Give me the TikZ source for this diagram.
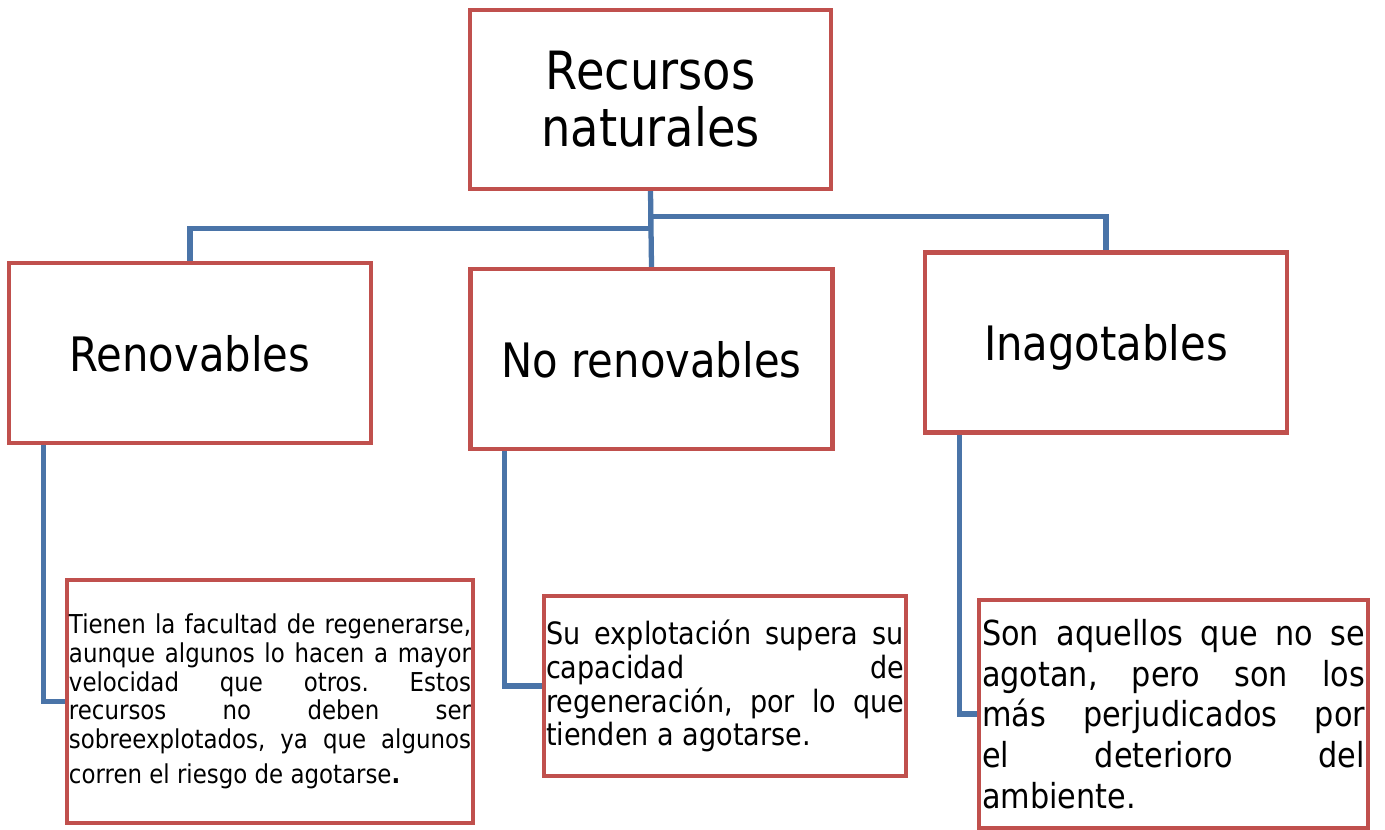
\documentclass[tikz,border=0pt]{standalone}
\usepackage{fontspec}
\setmainfont{DejaVu Sans}[FakeStretch=0.88]
\definecolor{boxred}{HTML}{C0504D}
\definecolor{linkblue}{HTML}{4A74A8}
\frenchspacing
\begin{document}
\begin{tikzpicture}
  [x=0.2mm,y=-0.2mm,
   every node/.style={rectangle,draw=boxred,line width=2.5pt,inner sep=0pt},
   cat/.style={minimum width=72.4mm,minimum height=36mm,text depth=0pt,
     font=\fontsize{27}{30}\selectfont},
   desc/.style={align=justify},
   link/.style={linkblue,line width=3pt}]
\useasboundingbox (0,0) rectangle (1385,830);
\node (top)[minimum width=72.2mm,minimum height=35.8mm,align=center,
  font=\fontsize{30}{32.5}\selectfont] at (650.5,99.5) {Recursos\\naturales};
  \node (ren)[cat] at (190,353) {Renovables};
  \node (noren)[cat] at (651.5,359) {No renovables};
  \node (inag)[cat] at (1106,342.5) {Inagotables};

\node (dren)[desc,minimum width=81.2mm,minimum height=48.6mm,text width=80.4mm,
  font=\fontsize{14.8}{16.3}\selectfont] at (270,701.5)
  {Tienen la facultad de regenerarse,\linebreak aunque algunos lo hacen a mayor\linebreak
   velocidad que otros. Estos\linebreak recursos no deben ser\linebreak
   sobreexplotados, ya que algunos\vspace{3.5pt}\linebreak corren el riesgo de agotarse\textbf{.}};
\node (dnoren)[desc,minimum width=72.4mm,minimum height=36mm,text width=71.6mm,
  font=\fontsize{17.5}{19.3}\selectfont] at (725,686)
  {Su explotación supera su\linebreak capacidad de\linebreak
   regeneración, por lo que\linebreak tienden a agotarse.};
\node (dinag)[desc,minimum width=77.8mm,minimum height=45.6mm,text width=76.6mm,
  font=\fontsize{19.6}{23.2}\selectfont] at (1173.5,714)
  {Son aquellos que no se\linebreak agotan, pero son los\linebreak
   más perjudicados por\linebreak el deterioro del\linebreak ambiente.};

 \foreach \to/\d in {ren/37,inag/25}
    \draw[link] (top.south) -- ++(0,\d) -| (\to.north);
 \draw[link] (top.south) -- (noren.north);
 \foreach \from/\to in {ren/dren,noren/dnoren,inag/dinag}
    \draw[link] ([xshift=7.3mm]\from.south west) |- (\to.west);
\end{tikzpicture}
\end{document}
